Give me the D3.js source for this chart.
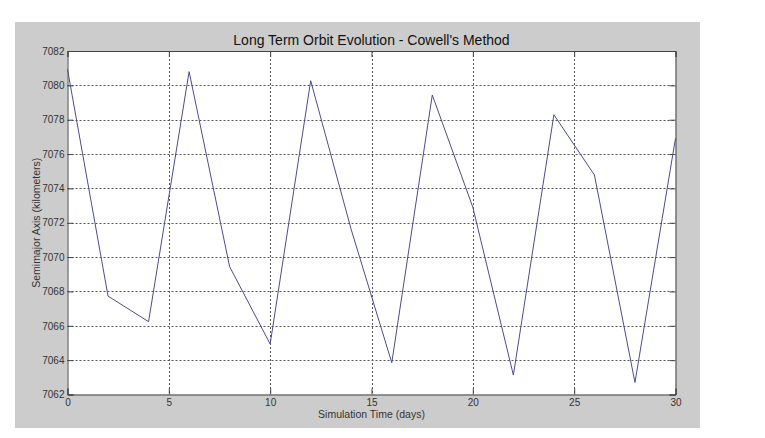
<!DOCTYPE html>
<html>
<head>
<meta charset="utf-8">
<script src="https://cdn.jsdelivr.net/npm/d3@7"></script>
<style>
  html, body { margin: 0; padding: 0; background: #ffffff; }
  svg { display: block; }
  text { font-family: "Liberation Sans", Arial, sans-serif; }
</style>
</head>
<body>
<svg id="chart" width="765" height="438"></svg>
<script>
const days = [0, 2, 4, 6, 8, 10, 12, 14, 16, 18, 20, 22, 24, 26, 28, 30];
const semimajorAxis = [7080.93, 7067.73, 7066.24, 7080.8, 7069.44, 7064.94, 7080.27, 7071.6,
                       7063.85, 7079.44, 7072.9, 7063.13, 7078.29, 7074.78, 7062.7, 7076.92];
const xTicks = [0, 5, 10, 15, 20, 25, 30];
const yTicks = [7062, 7064, 7066, 7068, 7070, 7072, 7074, 7076, 7078, 7080, 7082];
const titleText = "Long Term Orbit Evolution - Cowell's Method";
const xLabelText = "Simulation Time (days)";
const yLabelText = "Semimajor Axis (kilometers)";

const svg = d3.select("#chart");
const W = 765, H = 438;
const fig = { x: 15, y: 22, w: 685, h: 406 };
const plot = { left: 67.5, right: 675.5, top: 51, bottom: 394.5 };

svg.append("rect").attr("x", 0).attr("y", 0).attr("width", W).attr("height", H).attr("fill", "#ffffff");
svg.append("rect").attr("x", fig.x).attr("y", fig.y).attr("width", fig.w).attr("height", fig.h).attr("fill", "#cccccc");

const x = d3.scaleLinear().domain([0, 30]).range([plot.left, plot.right]);
const y = d3.scaleLinear().domain([7062, 7082]).range([plot.bottom, plot.top]);

svg.append("rect")
  .attr("x", plot.left).attr("y", plot.top)
  .attr("width", plot.right - plot.left).attr("height", plot.bottom - plot.top)
  .attr("fill", "#ffffff");

// grid
const grid = svg.append("g").attr("stroke", "#555").attr("stroke-width", 1).attr("stroke-dasharray", "2,2");
grid.selectAll("line.gx").data(xTicks.slice(1, -1)).join("line")
  .attr("x1", d => Math.round(x(d)) + 0.5).attr("x2", d => Math.round(x(d)) + 0.5)
  .attr("y1", plot.top).attr("y2", plot.bottom);
grid.selectAll("line.gy").data(yTicks.slice(1, -1)).join("line")
  .attr("y1", d => Math.round(y(d)) + 0.5).attr("y2", d => Math.round(y(d)) + 0.5)
  .attr("x1", plot.left).attr("x2", plot.right);

// axes
const tickLen = 6;
const xAxisB = d3.axisBottom(x).tickValues(xTicks).tickSize(-tickLen).tickFormat(d3.format("d"));
const xAxisT = d3.axisTop(x).tickValues(xTicks).tickSize(-tickLen).tickFormat("");
const yAxisL = d3.axisLeft(y).tickValues(yTicks).tickSize(-tickLen).tickFormat(d3.format("d"));
const yAxisR = d3.axisRight(y).tickValues(yTicks).tickSize(-tickLen).tickFormat("");

function style(g) {
  g.select(".domain").attr("stroke", "#444").attr("stroke-width", 1);
  g.selectAll(".tick line").attr("stroke", "#444");
  g.selectAll(".tick text").attr("fill", "#333").attr("font-size", 10)
    .attr("font-family", "'Liberation Sans', Arial, sans-serif");
}
svg.append("g").attr("transform", `translate(0,${plot.bottom})`).call(xAxisB).call(style)
  .call(g => g.selectAll(".tick text").attr("dy", "0.71em").attr("y", 4));
svg.append("g").attr("transform", `translate(0,${plot.top})`).call(xAxisT).call(style);
svg.append("g").attr("transform", `translate(${plot.left},0)`).call(yAxisL).call(style)
  .call(g => g.selectAll(".tick text").attr("x", -3));
svg.append("g").attr("transform", `translate(${plot.right},0)`).call(yAxisR).call(style);

// line
const line = d3.line().x((d, i) => x(days[i])).y(d => y(d));
svg.append("path").datum(semimajorAxis)
  .attr("d", line).attr("fill", "none").attr("stroke", "#4c4c8e").attr("stroke-width", 1);

// labels
svg.append("text").attr("x", (plot.left + plot.right) / 2).attr("y", 45)
  .attr("text-anchor", "middle").attr("font-size", 14).attr("fill", "#111").text(titleText);
svg.append("text").attr("x", (plot.left + plot.right) / 2).attr("y", 418)
  .attr("text-anchor", "middle").attr("font-size", 10.5).attr("fill", "#333").text(xLabelText);
svg.append("text").attr("transform", `translate(40,${(plot.top + plot.bottom) / 2}) rotate(-90)`)
  .attr("text-anchor", "middle").attr("font-size", 10.5).attr("fill", "#333").text(yLabelText);
</script>
</body>
</html>
